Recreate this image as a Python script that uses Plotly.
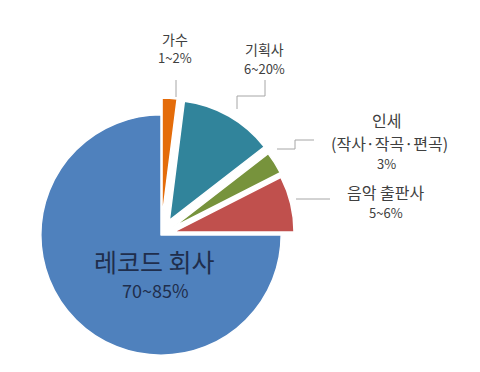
import plotly.graph_objects as go

# Revenue share by party (%), clockwise from 12 o'clock
categories = ["가수", "기획사", "인세", "음악 출판사", "레코드 회사"]
shares = [2, 12.5, 3, 7.5, 75]
range_labels = ["1~2%", "6~20%", "3%", "5~6%", "70~85%"]
royalty_detail = "(작사·작곡·편곡)"
colors = ["#E46C0A", "#31849B", "#77933C", "#C0504D", "#4F81BD"]
pulls = [0.14, 0.14, 0.12, 0.11, 0]

W, H = 480, 372


def px(x):
    return x / W


def py(y):
    return 1 - y / H


FONT = "Noto Sans CJK KR, Noto Sans, sans-serif"
LABEL_COLOR = "#404040"
MAIN_COLOR = "#1F2E4C"

fig = go.Figure(
    go.Pie(
        labels=categories,
        values=shares,
        sort=False,
        direction="clockwise",
        rotation=0,
        pull=pulls,
        marker=dict(colors=colors, line=dict(color="white", width=1.5)),
        textinfo="none",
        hoverinfo="label+percent",
        showlegend=False,
        domain=dict(x=[px(24), px(298)], y=[0, py(98)]),
    )
)

# (text, x, y, size, colour) for each label line
lines = [
    (categories[4], 154, 261, 25, MAIN_COLOR),
    (range_labels[4], 155, 290, 18, MAIN_COLOR),
    (categories[0], 175, 39, 14, LABEL_COLOR),
    (range_labels[0], 175, 58, 13, LABEL_COLOR),
    (categories[1], 264, 49, 14, LABEL_COLOR),
    (range_labels[1], 264, 68, 13, LABEL_COLOR),
    (categories[2], 386, 120, 16, LABEL_COLOR),
    (royalty_detail, 389, 143, 16, LABEL_COLOR),
    (range_labels[2], 386, 163, 13, LABEL_COLOR),
    (categories[3], 385, 192, 16, LABEL_COLOR),
    (range_labels[3], 386, 212, 13, LABEL_COLOR),
]
annotations = [
    dict(x=px(x), y=py(y), text=t, font=dict(size=s, color=c, family=FONT),
         xref="paper", yref="paper", showarrow=False,
         xanchor="center", yanchor="middle")
    for t, x, y, s, c in lines
]

# Elbow leader lines from the labels to the pulled slices
leaders = [
    [(176, 80), (176, 97)],
    [(265, 80), (265, 96), (237, 96), (237, 109)],
    [(314, 140), (295, 140), (295, 149), (277, 149)],
    [(330, 199), (296, 199)],
]
shapes = []
for pts in leaders:
    path = "M " + " L ".join(f"{px(x)},{py(y)}" for x, y in pts)
    shapes.append(dict(type="path", xref="paper", yref="paper", path=path,
                       line=dict(color="#A6A6A6", width=1)))

fig.update_layout(
    width=W,
    height=H,
    margin=dict(l=0, r=0, t=0, b=0),
    paper_bgcolor="white",
    plot_bgcolor="white",
    annotations=annotations,
    shapes=shapes,
)

fig.write_html("out.html")
